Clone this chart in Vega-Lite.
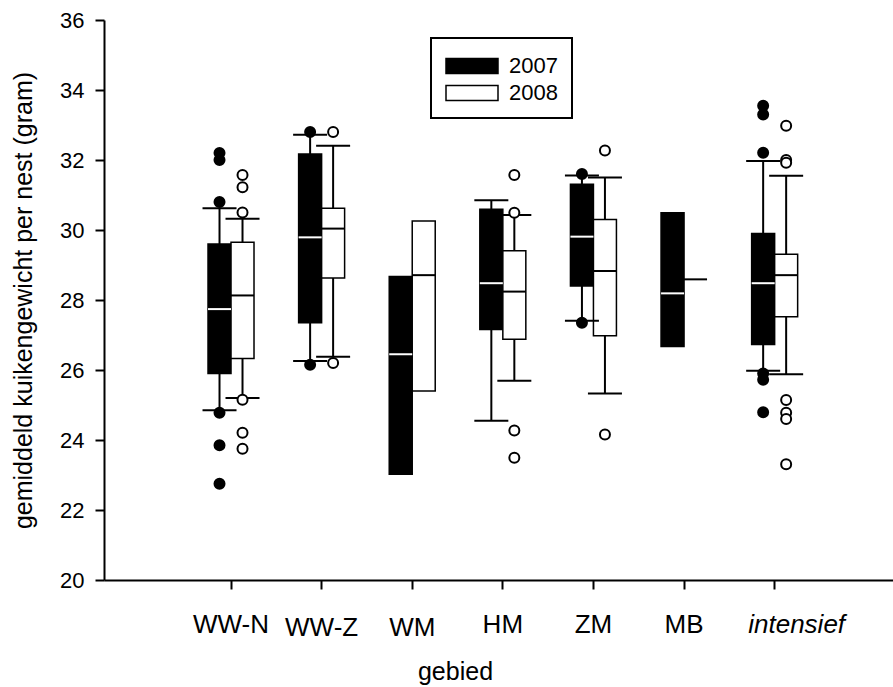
{
  "$schema": "https://vega.github.io/schema/vega-lite/v6.json",
  "width": 789,
  "height": 560,
  "autosize": {"type": "none"},
  "padding": {"left": 104, "top": 20, "right": 0, "bottom": 107},
  "background": "white",
  "config": {
    "view": {"stroke": null},
    "font": "Liberation Sans",
    "legend": {"strokeWidth": 2},
    "axisY": {"labelFontSize": 22}
  },
  "datasets": {
    "boxes": [
      {"gebied": "WW-N", "year": "2007", "lo": 24.85, "q1": 25.9, "median": 27.74, "q3": 29.6, "hi": 30.62},
      {"gebied": "WW-N", "year": "2008", "lo": 25.2, "q1": 26.33, "median": 28.13, "q3": 29.65, "hi": 30.32},
      {"gebied": "WW-Z", "year": "2007", "lo": 26.26, "q1": 27.35, "median": 29.79, "q3": 32.17, "hi": 32.72},
      {"gebied": "WW-Z", "year": "2008", "lo": 26.38, "q1": 28.63, "median": 30.04, "q3": 30.62, "hi": 32.41},
      {"gebied": "WM", "year": "2007", "lo": null, "q1": 23.02, "median": 26.45, "q3": 28.67, "hi": null},
      {"gebied": "WM", "year": "2008", "lo": null, "q1": 25.4, "median": 28.71, "q3": 30.26, "hi": null},
      {"gebied": "HM", "year": "2007", "lo": 24.55, "q1": 27.16, "median": 28.48, "q3": 30.59, "hi": 30.85},
      {"gebied": "HM", "year": "2008", "lo": 25.69, "q1": 26.88, "median": 28.24, "q3": 29.41, "hi": 30.43},
      {"gebied": "ZM", "year": "2007", "lo": 27.41, "q1": 28.4, "median": 29.81, "q3": 31.31, "hi": 31.56},
      {"gebied": "ZM", "year": "2008", "lo": 25.33, "q1": 26.98, "median": 28.83, "q3": 30.3, "hi": 31.5},
      {"gebied": "MB", "year": "2007", "lo": null, "q1": 26.67, "median": 28.19, "q3": 30.49, "hi": null},
      {"gebied": "MB", "year": "2008", "lo": null, "q1": null, "median": 28.59, "q3": null, "hi": null},
      {"gebied": "intensief", "year": "2007", "lo": 25.98, "q1": 26.73, "median": 28.48, "q3": 29.9, "hi": 31.97},
      {"gebied": "intensief", "year": "2008", "lo": 25.88, "q1": 27.52, "median": 28.71, "q3": 29.31, "hi": 31.55}
    ],
    "outliers": [
      {"gebied": "WW-N", "year": "2007", "value": 32.2},
      {"gebied": "WW-N", "year": "2007", "value": 32.0},
      {"gebied": "WW-N", "year": "2007", "value": 30.8},
      {"gebied": "WW-N", "year": "2007", "value": 24.78},
      {"gebied": "WW-N", "year": "2007", "value": 23.85},
      {"gebied": "WW-N", "year": "2007", "value": 22.75},
      {"gebied": "WW-N", "year": "2008", "value": 31.57},
      {"gebied": "WW-N", "year": "2008", "value": 31.22},
      {"gebied": "WW-N", "year": "2008", "value": 30.5},
      {"gebied": "WW-N", "year": "2008", "value": 25.15},
      {"gebied": "WW-N", "year": "2008", "value": 24.21},
      {"gebied": "WW-N", "year": "2008", "value": 23.75},
      {"gebied": "WW-Z", "year": "2007", "value": 32.8},
      {"gebied": "WW-Z", "year": "2007", "value": 26.15},
      {"gebied": "WW-Z", "year": "2008", "value": 32.8},
      {"gebied": "WW-Z", "year": "2008", "value": 26.2},
      {"gebied": "HM", "year": "2008", "value": 31.57},
      {"gebied": "HM", "year": "2008", "value": 30.49},
      {"gebied": "HM", "year": "2008", "value": 24.27},
      {"gebied": "HM", "year": "2008", "value": 23.49},
      {"gebied": "ZM", "year": "2007", "value": 31.6},
      {"gebied": "ZM", "year": "2007", "value": 27.35},
      {"gebied": "ZM", "year": "2008", "value": 32.27},
      {"gebied": "ZM", "year": "2008", "value": 24.16},
      {"gebied": "intensief", "year": "2007", "value": 33.55},
      {"gebied": "intensief", "year": "2007", "value": 33.3},
      {"gebied": "intensief", "year": "2007", "value": 32.21},
      {"gebied": "intensief", "year": "2007", "value": 25.9},
      {"gebied": "intensief", "year": "2007", "value": 25.72},
      {"gebied": "intensief", "year": "2007", "value": 24.79},
      {"gebied": "intensief", "year": "2008", "value": 32.98},
      {"gebied": "intensief", "year": "2008", "value": 32.0},
      {"gebied": "intensief", "year": "2008", "value": 31.92},
      {"gebied": "intensief", "year": "2008", "value": 25.14},
      {"gebied": "intensief", "year": "2008", "value": 24.78},
      {"gebied": "intensief", "year": "2008", "value": 24.6},
      {"gebied": "intensief", "year": "2008", "value": 23.31}
    ]
  },
  "layer": [
    {
      "data": {"name": "boxes"},
      "mark": {"type": "rule", "color": "black", "strokeWidth": 2, "opacity": 1},
      "encoding": {
        "x": {
          "field": "gebied", "type": "nominal", "title": "gebied",
          "scale": {"domain": ["WW-N", "WW-Z", "WM", "HM", "ZM", "MB", "intensief"], "paddingInner": 0, "paddingOuter": 0.854, "align": 0.528},
          "axis": {
            "labelAngle": 0,
            "tickSize": 9, "tickWidth": 2, "tickColor": "black",
            "domainWidth": 2, "domainColor": "black",
            "labelFontSize": 26, "labelColor": "black", "labelBaseline": "alphabetic",
            "labelPadding": {"condition": {"test": "datum.value == 'WW-Z' || datum.value == 'WM'", "value": 46}, "value": 43},
            "labelFontStyle": {"condition": {"test": "datum.value == 'intensief'", "value": "italic"}, "value": "normal"},
            "labelOffset": {"condition": {"test": "datum.value == 'intensief'", "value": 22}, "value": 0},
            "titleFontSize": 25, "titleFontWeight": "normal", "titleColor": "black",
            "titleX": 351, "titleY": 99, "titleBaseline": "alphabetic", "titleAlign": "center"
          }
        },
        "xOffset": {"field": "year", "type": "nominal", "scale": {"domain": ["2007", "2008"], "paddingInner": 0, "paddingOuter": 0.97}},
        "y": {
          "field": "lo", "type": "quantitative", "title": "gemiddeld kuikengewicht per nest (gram)",
          "scale": {"domain": [20, 36], "nice": false, "zero": false},
          "axis": {
            "values": [20, 22, 24, 26, 28, 30, 32, 34, 36],
            "grid": false,
            "tickSize": 9, "tickWidth": 2, "tickColor": "black",
            "domainWidth": 2, "domainColor": "black",
            "labelFontSize": 22, "labelColor": "black", "labelPadding": 11,
            "titleFontSize": 25, "titleFontWeight": "normal", "titleColor": "black",
            "titleX": -68
          }
        },
        "y2": {"field": "hi"}
      }
    },
    {
      "mark": {"type": "rule", "color": "black", "strokeWidth": 2, "opacity": 1},
      "encoding": {
        "y": {"datum": 36, "type": "quantitative", "title": "gemiddeld kuikengewicht per nest (gram)"}
      }
    },
    {
      "data": {"name": "boxes"},
      "mark": {"type": "bar", "stroke": "black", "strokeWidth": 1.5, "opacity": 1},
      "encoding": {
        "x": {"field": "gebied", "type": "nominal", "title": "gebied", "scale": {"domain": ["WW-N", "WW-Z", "WM", "HM", "ZM", "MB", "intensief"]}},
        "xOffset": {"field": "year", "type": "nominal", "scale": {"domain": ["2007", "2008"]}},
        "y": {"field": "q1", "type": "quantitative", "title": "gemiddeld kuikengewicht per nest (gram)"},
        "y2": {"field": "q3"},
        "fill": {
          "field": "year", "type": "nominal",
          "scale": {"domain": ["2007", "2008"], "range": ["black", "white"]},
          "legend": {
            "orient": "none", "legendX": 327, "legendY": 18, "title": null,
            "symbolType": "M-1,-0.57L3,-0.57L3,0.57L-1,0.57Z",
            "symbolSize": 676,
            "symbolStrokeColor": "black", "symbolStrokeWidth": 1.5, "symbolOpacity": 1,
            "labelFontSize": 22, "labelColor": "black", "labelOffset": 36,
            "rowPadding": 2, "padding": 14,
            "strokeColor": "black"
          }
        }
      }
    },
    {
      "data": {"name": "boxes"},
      "mark": {"type": "tick", "orient": "horizontal", "size": 34, "thickness": 2, "color": "black", "opacity": 1},
      "encoding": {
        "x": {"field": "gebied", "type": "nominal", "title": "gebied", "scale": {"domain": ["WW-N", "WW-Z", "WM", "HM", "ZM", "MB", "intensief"]}},
        "xOffset": {"field": "year", "type": "nominal", "scale": {"domain": ["2007", "2008"]}},
        "y": {"field": "hi", "type": "quantitative", "title": "gemiddeld kuikengewicht per nest (gram)"}
      }
    },
    {
      "data": {"name": "boxes"},
      "mark": {"type": "tick", "orient": "horizontal", "size": 34, "thickness": 2, "color": "black", "opacity": 1},
      "encoding": {
        "x": {"field": "gebied", "type": "nominal", "title": "gebied", "scale": {"domain": ["WW-N", "WW-Z", "WM", "HM", "ZM", "MB", "intensief"]}},
        "xOffset": {"field": "year", "type": "nominal", "scale": {"domain": ["2007", "2008"]}},
        "y": {"field": "lo", "type": "quantitative", "title": "gemiddeld kuikengewicht per nest (gram)"}
      }
    },
    {
      "data": {"name": "boxes"},
      "mark": {"type": "tick", "orient": "horizontal", "size": 23, "thickness": 2, "opacity": 1},
      "encoding": {
        "x": {"field": "gebied", "type": "nominal", "title": "gebied", "scale": {"domain": ["WW-N", "WW-Z", "WM", "HM", "ZM", "MB", "intensief"]}},
        "xOffset": {"field": "year", "type": "nominal", "scale": {"domain": ["2007", "2008"]}},
        "y": {"field": "median", "type": "quantitative", "title": "gemiddeld kuikengewicht per nest (gram)"},
        "color": {"field": "year", "type": "nominal", "scale": {"domain": ["2007", "2008"], "range": ["white", "black"]}, "legend": null}
      }
    },
    {
      "data": {"name": "outliers"},
      "mark": {"type": "point", "shape": "circle", "filled": true, "size": 100, "stroke": "black", "strokeWidth": 2, "opacity": 1},
      "encoding": {
        "x": {"field": "gebied", "type": "nominal", "title": "gebied", "scale": {"domain": ["WW-N", "WW-Z", "WM", "HM", "ZM", "MB", "intensief"]}},
        "xOffset": {"field": "year", "type": "nominal", "scale": {"domain": ["2007", "2008"]}},
        "y": {"field": "value", "type": "quantitative", "title": "gemiddeld kuikengewicht per nest (gram)"},
        "fill": {"field": "year", "type": "nominal", "scale": {"domain": ["2007", "2008"], "range": ["black", "white"]}}
      }
    }
  ]
}
